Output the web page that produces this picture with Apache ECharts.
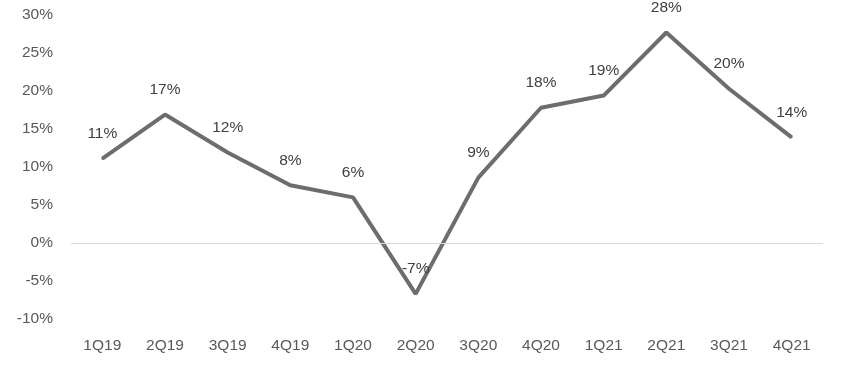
<!DOCTYPE html>
<html>
<head>
<meta charset="utf-8">
<script src="https://cdn.jsdelivr.net/npm/echarts@6/dist/echarts.min.js"></script>
<style>html,body{margin:0;padding:0;background:#fff}#c{width:862px;height:374px}</style>
</head>
<body>
<div id="c"></div>
<script>
const categories = ['1Q19','2Q19','3Q19','4Q19','1Q20','2Q20','3Q20','4Q20','1Q21','2Q21','3Q21','4Q21'];
const growth = [11.1, 16.9, 11.9, 7.6, 6.0, -6.7, 8.6, 17.8, 19.4, 27.7, 20.3, 13.9];
const yTicks = { min: -10, max: 30, interval: 5 };

const chart = echarts.init(document.getElementById('c'));
const font = 'Liberation Sans, Arial, sans-serif';
chart.setOption({
  animation: false,
  grid: { left: 71, right: 39, top: 15, bottom: 55 },
  xAxis: {
    type: 'category',
    data: categories,
    boundaryGap: true,
    axisLine: { show: false },
    axisTick: { show: false },
    axisLabel: { color: '#595959', fontSize: 15.5, fontFamily: font, margin: 19 }
  },
  yAxis: {
    type: 'value',
    min: yTicks.min, max: yTicks.max, interval: yTicks.interval,
    axisLine: { show: false },
    axisTick: { show: false },
    splitLine: { show: false },
    axisLabel: { color: '#595959', fontSize: 15.5, fontFamily: font, margin: 18, formatter: v => v + '%' }
  },
  series: [{
    type: 'line',
    data: growth,
    symbol: 'circle',
    symbolSize: 2,
    showSymbol: true,
    itemStyle: { color: '#6e6c6e' },
    lineStyle: { color: '#6e6c6e', width: 4 },
    label: {
      show: true, position: 'top', distance: 16,
      color: '#404040', fontSize: 15.5, fontFamily: font,
      formatter: p => Math.round(p.value) + '%'
    },
    markLine: {
      silent: true, symbol: 'none', label: { show: false },
      lineStyle: { color: '#d9d9d9', width: 1, type: 'solid' },
      data: [{ yAxis: 0 }]
    },
    z: 3
  }]
});
</script>
</body>
</html>
